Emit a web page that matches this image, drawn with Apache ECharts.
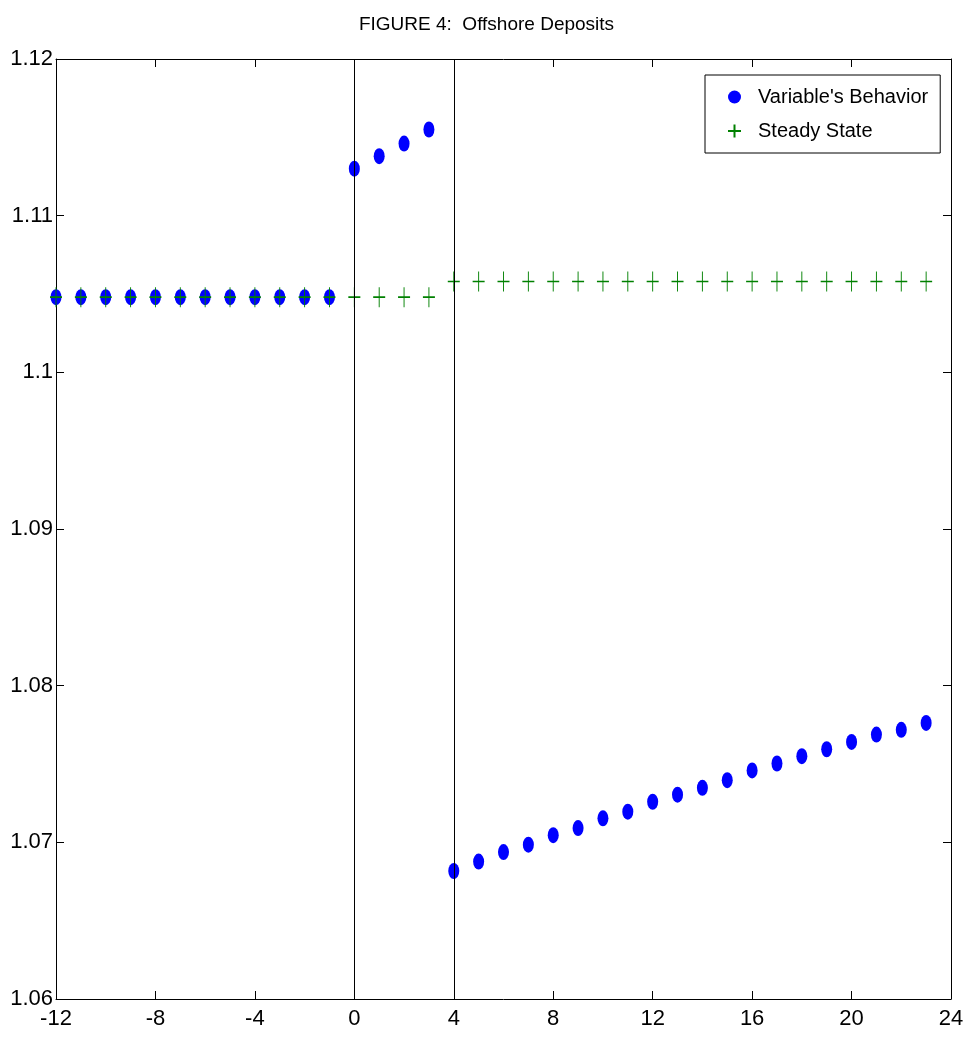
<!DOCTYPE html>
<html>
<head>
<meta charset="utf-8">
<script src="https://cdn.jsdelivr.net/npm/echarts@6/dist/echarts.min.js"></script>
<style>html,body{margin:0;padding:0;background:#fff;}#c{width:973px;height:1043px;}</style>
</head>
<body>
<div id="c"></div>
<script>
var titleText = "FIGURE 4:  Offshore Deposits";
var seriesNames = ["Variable's Behavior", "Steady State"];
var periods = [-12,-11,-10,-9,-8,-7,-6,-5,-4,-3,-2,-1,0,1,2,3,4,5,6,7,8,9,10,11,12,13,14,15,16,17,18,19,20,21,22,23];
var behavior = [1.1048,1.1048,1.1048,1.1048,1.1048,1.1048,1.1048,1.1048,1.1048,1.1048,1.1048,1.1048,
  1.1130,1.1138,1.1146,1.1155,
  1.06817,1.06877,1.06938,1.06985,1.07046,1.07091,1.07153,1.07196,1.07259,1.07304,
  1.07348,1.07397,1.07459,1.07503,1.07550,1.07594,1.07641,1.07688,1.07718,1.07762];
var steady = [1.1048,1.1048,1.1048,1.1048,1.1048,1.1048,1.1048,1.1048,1.1048,1.1048,1.1048,1.1048,
  1.1048,1.1048,1.1048,1.1048,
  1.1058,1.1058,1.1058,1.1058,1.1058,1.1058,1.1058,1.1058,1.1058,1.1058,
  1.1058,1.1058,1.1058,1.1058,1.1058,1.1058,1.1058,1.1058,1.1058,1.1058];
var verticalLines = [0, 4];
var xMin = -12, xMax = 24, xStep = 4;
var yMin = 1.06, yMax = 1.12, yStep = 0.01;

var FONT = "'Liberation Sans Narrow','Arial Narrow','Liberation Sans',Arial,sans-serif";
var chart = echarts.init(document.getElementById('c'), null, {renderer: 'canvas'});
function pairs(xs, ys){ return xs.map(function(x,i){ return [x, ys[i]]; }); }
function axisCommon(){
  return {
    type: 'value',
    axisLine: {show: true, onZero: false, lineStyle: {color: '#000', width: 1}},
    axisTick: {show: true, inside: true, length: 8, lineStyle: {color: '#000'}},
    splitLine: {show: false}
  };
}
var option = {
  backgroundColor: '#fff',
  animation: false,
  title: {text: titleText, left: 'center', top: 10,
    textStyle: {fontFamily: FONT, fontSize: 19, fontWeight: 'normal', color: '#000'}},
  legend: {
    orient: 'vertical', left: 705, top: 75,
    backgroundColor: '#fff', borderColor: '#000', borderWidth: 1,
    padding: [12, 12, 12, 22], itemGap: 14, itemWidth: 13, itemHeight: 20,
    textStyle: {fontFamily: FONT, fontSize: 20, color: '#000', padding: [0,0,0,12]},
    data: seriesNames
  },
  grid: {left: 56, right: 22, top: 59, bottom: 44},
  xAxis: [
    Object.assign(axisCommon(), {position: 'bottom', min: xMin, max: xMax, interval: xStep,
      axisLabel: {fontFamily: FONT, fontSize: 22, color: '#000', margin: 9}}),
    Object.assign(axisCommon(), {position: 'top', min: xMin, max: xMax, interval: xStep,
      axisLabel: {show: false}})
  ],
  yAxis: [
    Object.assign(axisCommon(), {position: 'left', min: yMin, max: yMax, interval: yStep,
      axisLabel: {fontFamily: FONT, fontSize: 22, color: '#000', margin: 3}}),
    Object.assign(axisCommon(), {position: 'right', min: yMin, max: yMax, interval: yStep,
      axisLabel: {show: false}})
  ],
  series: [
    {
      name: seriesNames[0], type: 'scatter', xAxisIndex: 0, yAxisIndex: 0,
      symbol: 'path://M0,-1A1,1 0 1,1 0,1A1,1 0 1,1 0,-1Z',
      symbolSize: [11, 16],
      itemStyle: {color: '#0000ff', opacity: 1},
      data: pairs(periods, behavior),
      markLine: {
        silent: true, symbol: ['none','none'], label: {show: false},
        lineStyle: {color: '#000', type: 'solid', width: 1},
        data: verticalLines.map(function(v){ return {xAxis: v}; })
      }
    },
    {
      name: seriesNames[1], type: 'scatter', xAxisIndex: 0, yAxisIndex: 0,
      symbol: 'path://M0,10L20,10M10,0L10,20',
      symbolSize: [12, 20],
      itemStyle: {color: 'rgba(0,0,0,0)', borderColor: '#008000', borderWidth: 1.2, opacity: 1},
      data: pairs(periods, steady)
    }
  ]
};
chart.setOption(option);
</script>
</body>
</html>
